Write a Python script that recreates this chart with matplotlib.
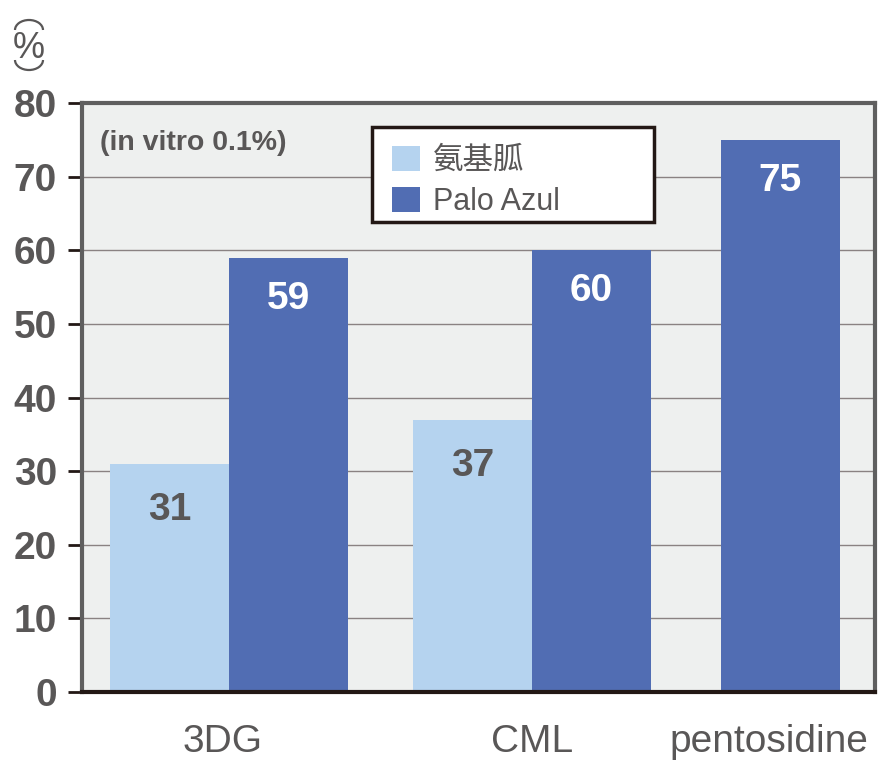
import matplotlib
matplotlib.use("Agg")
import matplotlib.pyplot as plt
from matplotlib.patches import Patch, Rectangle, Arc
import numpy as np

# DATOS
categorias = ["3DG", "CML", "pentosidine"]
serie_nombres = ["氨基胍", "Palo Azul"]
aminoguanidina = [31, 37, None]
palo_azul = [59, 60, 75]
yticks = [0, 10, 20, 30, 40, 50, 60, 70, 80]

# COLORES
C_LIGHT = "#b5d3ef"
C_DARK = "#516db3"
C_BG = "#eef0ef"
C_TEXT = "#595757"
C_DARKLINE = "#231815"

plt.rcParams['font.family'] = ['Liberation Sans', 'Noto Sans CJK SC', 'DejaVu Sans']

W, H = 894, 776
fig = plt.figure(figsize=(W / 100, H / 100), dpi=100)
ax = fig.add_axes([82 / W, 84 / H, 793 / W, 589 / H])
ax.set_facecolor(C_BG)

# posiciones (en anchos de barra)
w = 1.0
centros = [1.235, 3.782, 5.866]
x_light = [centros[0] - w / 2, centros[1] - w / 2]
x_dark = [centros[0] + w / 2, centros[1] + w / 2, centros[2]]

vals_light = [v for v in aminoguanidina if v is not None]
ax.bar(x_light, vals_light, width=w, color=C_LIGHT, zorder=3)
ax.bar(x_dark, palo_azul, width=w, color=C_DARK, zorder=3)

for x, v in zip(x_light, vals_light):
    ax.text(x, v - 6.3, str(v), ha="center", va="center", fontsize=28,
            fontweight="bold", color=C_TEXT, zorder=4)
for x, v in zip(x_dark, palo_azul):
    ax.text(x, v - 5.6, str(v), ha="center", va="center", fontsize=28,
            fontweight="bold", color="white", zorder=4)

ax.set_xlim(0, 793 / 119)
ax.set_ylim(0, 80)
ax.set_yticks(yticks)
ax.set_yticklabels([str(t) for t in yticks])
ax.set_xticks([1.18, 3.78, 5.77])
ax.set_xticklabels(categorias)

ax.yaxis.grid(True, color="#8a8282", linewidth=1.0, zorder=1)
ax.set_axisbelow(True)

ax.tick_params(axis="y", direction="out", length=10, width=2, color=C_DARKLINE,
               pad=8, labelsize=28, labelcolor=C_TEXT)
for lab in ax.get_yticklabels():
    lab.set_fontweight("bold")
ax.tick_params(axis="x", length=0, pad=23, labelsize=28, labelcolor=C_TEXT)

for s in ["left", "top", "right"]:
    ax.spines[s].set_color("#5f5f5f")
    ax.spines[s].set_linewidth(3)
ax.spines["bottom"].set_color(C_DARKLINE)
ax.spines["bottom"].set_linewidth(3)
ax.spines["bottom"].set_zorder(5)

# texto de condiciones
ax.text(0.023, 1 - 40 / 589, "(in vitro 0.1%)", transform=ax.transAxes,
        ha="left", va="center", fontsize=20.5, fontweight="bold", color=C_TEXT)

# unidad vertical: ( % ) en escritura vertical, parentesis como arcos
ux = 29 / W
fig.text(ux, 1 - 48 / H, "%", ha="center", va="center",
         fontsize=26, color=C_TEXT)
fig.add_artist(Arc((ux, 1 - 30 / H), 28 / W, 20 / H, theta1=0, theta2=180,
                   transform=fig.transFigure, color=C_TEXT, linewidth=1.6))
fig.add_artist(Arc((ux, 1 - 60 / H), 28 / W, 20 / H, theta1=180, theta2=360,
                   transform=fig.transFigure, color=C_TEXT, linewidth=1.6))

# leyenda: marco dibujado aparte
marco = Rectangle((372 / W, 1 - 222 / H), 282 / W, 95 / H, transform=fig.transFigure,
                  facecolor="white", edgecolor=C_DARKLINE, linewidth=2.5, zorder=5)
fig.add_artist(marco)
handles = [Patch(facecolor=C_LIGHT, edgecolor="none"),
           Patch(facecolor=C_DARK, edgecolor="none")]
leg = fig.legend(handles, serie_nombres, loc="upper left",
                 bbox_to_anchor=(392 / W, 1 - 146 / H),
                 fontsize=22, frameon=False,
                 handlelength=0.9, handleheight=0.9, handletextpad=0.45,
                 labelspacing=0.35, borderpad=0, borderaxespad=0)
for t in leg.get_texts():
    t.set_color(C_TEXT)
    t.set_family(['Liberation Sans', 'Noto Sans CJK SC'])
leg.set_zorder(6)

plt.savefig("out.png", dpi=100)
plt.close(fig)
